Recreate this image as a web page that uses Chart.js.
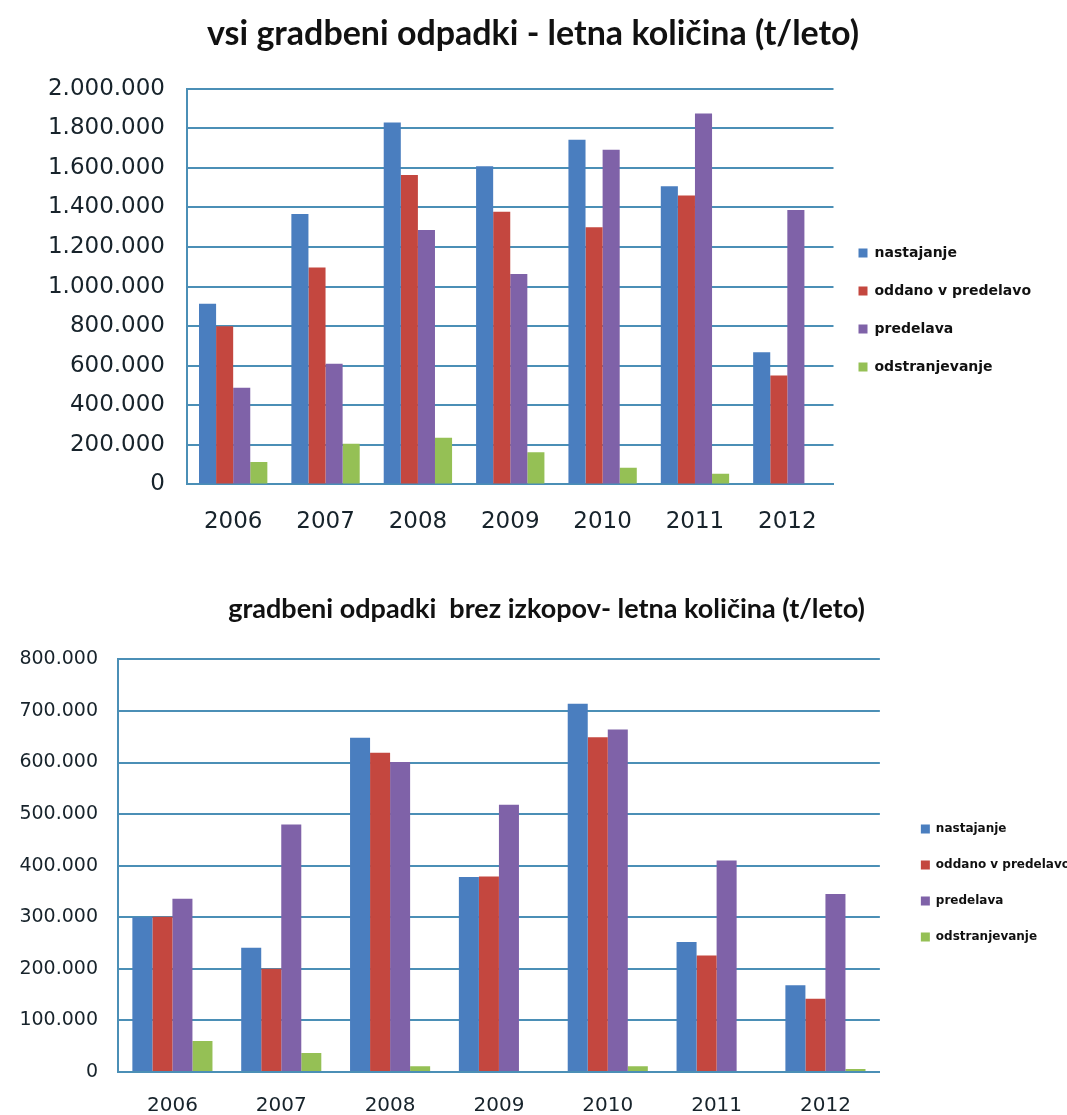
<!DOCTYPE html>
<html lang="sl">
<head>
<meta charset="utf-8">
<title>Gradbeni odpadki</title>
<script src="https://cdn.jsdelivr.net/npm/chart.js@4.4.1/dist/chart.umd.min.js"></script>
<style>
  html, body { margin: 0; padding: 0; background: #fff; overflow: hidden; }
  body { width: 1067px; height: 1115px; position: relative; }
  .chart-box { position: absolute; left: 0; width: 1067px; }
  #topBox { top: 0; height: 552px; }
  #bottomBox { top: 570px; height: 562px; }
</style>
</head>
<body>
<div class="chart-box" id="topBox"><canvas id="allWaste"></canvas></div>
<div class="chart-box" id="bottomBox"><canvas id="noExcavation"></canvas></div>

<script>
const years = ['2006', '2007', '2008', '2009', '2010', '2011', '2012'];
const seriesNames = ['nastajanje', 'oddano v predelavo', 'predelava', 'odstranjevanje'];
const seriesColors = ['#4a7ebf', '#c4473f', '#7f62a8', '#95c055'];

// vsi gradbeni odpadki (t/leto)
const allNastajanje = [913000, 1367000, 1830000, 1608000, 1742000, 1507000, 668000];
const allOddano = [800000, 1097000, 1564000, 1379000, 1300000, 1460000, 550000];
const allPredelava = [488000, 610000, 1286000, 1064000, 1692000, 1875000, 1387000];
const allOdstranjevanje = [113000, 205000, 236000, 163000, 84000, 54000, 0];

// gradbeni odpadki brez izkopov (t/leto)
const exNastajanje = [300000, 241000, 648000, 378000, 714000, 252000, 168000];
const exOddano = [301000, 200000, 619000, 379000, 649000, 226000, 142000];
const exPredelava = [336000, 480000, 601000, 518000, 664000, 410000, 345000];
const exOdstranjevanje = [60000, 37000, 11000, 0, 11000, 0, 6000];

const gridColor = '#4b8fb6';
const textColor = '#17232b';

// 1234567 -> "1.234.567"
function formatThousands(v) {
  return String(Math.round(v)).replace(/\B(?=(\d{3})+(?!\d))/g, '.');
}

// shifts the title and legend boxes after layout, so they can sit off-centre
const nudgePlugin = {
  id: 'nudge',
  afterLayout(chart, args, opts) {
    const shift = (box, d) => {
      if (!box || !d) return;
      box.left += d.x || 0;
      box.right += d.x || 0;
      box.top += d.y || 0;
      box.bottom += d.y || 0;
    };
    shift(chart.titleBlock, opts.title);
    shift(chart.legend, opts.legend);
  }
};

function buildDatasets(values, catPct) {
  return values.map((data, i) => ({
    label: seriesNames[i],
    data: data,
    backgroundColor: seriesColors[i],
    borderWidth: 0,
    barPercentage: 1.0,
    categoryPercentage: catPct
  }));
}

function makeChart(canvasId, cfg) {
  const ctx = document.getElementById(canvasId).getContext('2d');
  return new Chart(ctx, {
    type: 'bar',
    data: {
      labels: years,
      datasets: buildDatasets(cfg.values, cfg.catPct)
    },
    plugins: [nudgePlugin],
    options: {
      responsive: true,
      maintainAspectRatio: false,
      animation: false,
      layout: { padding: cfg.padding },
      plugins: {
        nudge: cfg.nudge,
        title: {
          display: true,
          text: cfg.title,
          color: '#111',
          font: { family: 'Lato', weight: 'bold', size: cfg.titleSize },
          padding: cfg.titlePadding
        },
        legend: {
          position: 'right',
          align: 'center',
          labels: {
            boxWidth: 9,
            boxHeight: 9,
            padding: cfg.legendPadding,
            color: '#111',
            font: { family: 'DejaVu Sans', weight: 'bold', size: cfg.legendSize }
          }
        },
        tooltip: { enabled: false }
      },
      scales: {
        x: {
          grid: { display: false },
          border: { display: true, color: gridColor, width: 2 },
          ticks: {
            color: textColor,
            padding: cfg.xPad,
            font: { family: 'DejaVu Sans', size: cfg.xSize }
          }
        },
        y: {
          min: 0,
          max: cfg.max,
          afterFit: (scale) => { scale.width = cfg.axisWidth; },
          grid: { color: gridColor, lineWidth: 2, drawTicks: false },
          border: { display: true, color: gridColor, width: 2 },
          ticks: {
            stepSize: cfg.step,
            color: textColor,
            padding: cfg.yPad,
            font: { family: 'DejaVu Sans', size: cfg.ySize },
            callback: (v) => formatThousands(v)
          }
        }
      }
    }
  });
}

makeChart('allWaste', {
  title: 'vsi gradbeni odpadki - letna količina (t/leto)',
  values: [allNastajanje, allOddano, allPredelava, allOdstranjevanje],
  max: 2000000,
  step: 200000,
  catPct: 0.74,
  axisWidth: 187,
  titleSize: 34,
  titlePadding: { top: 14, bottom: 34 },
  legendSize: 14,
  legendPadding: 24,
  xSize: 23,
  xPad: 16,
  ySize: 23,
  yPad: 22,
  padding: { left: 0, right: 27, top: 0, bottom: 0 },
  nudge: { title: { x: 13 }, legend: { x: 1, y: 34 } }
});

makeChart('noExcavation', {
  title: 'gradbeni odpadki  brez izkopov- letna količina (t/leto)',
  values: [exNastajanje, exOddano, exPredelava, exOdstranjevanje],
  max: 800000,
  step: 100000,
  catPct: 0.736,
  axisWidth: 118,
  titleSize: 27,
  titlePadding: { top: 23, bottom: 34 },
  legendSize: 12,
  legendPadding: 24,
  xSize: 20,
  xPad: 14,
  ySize: 19,
  yPad: 20,
  padding: { left: 0, right: 4, top: 0, bottom: 0 },
  nudge: { title: { x: 15 }, legend: { x: 17, y: 32 } }
});
</script>
</body>
</html>
